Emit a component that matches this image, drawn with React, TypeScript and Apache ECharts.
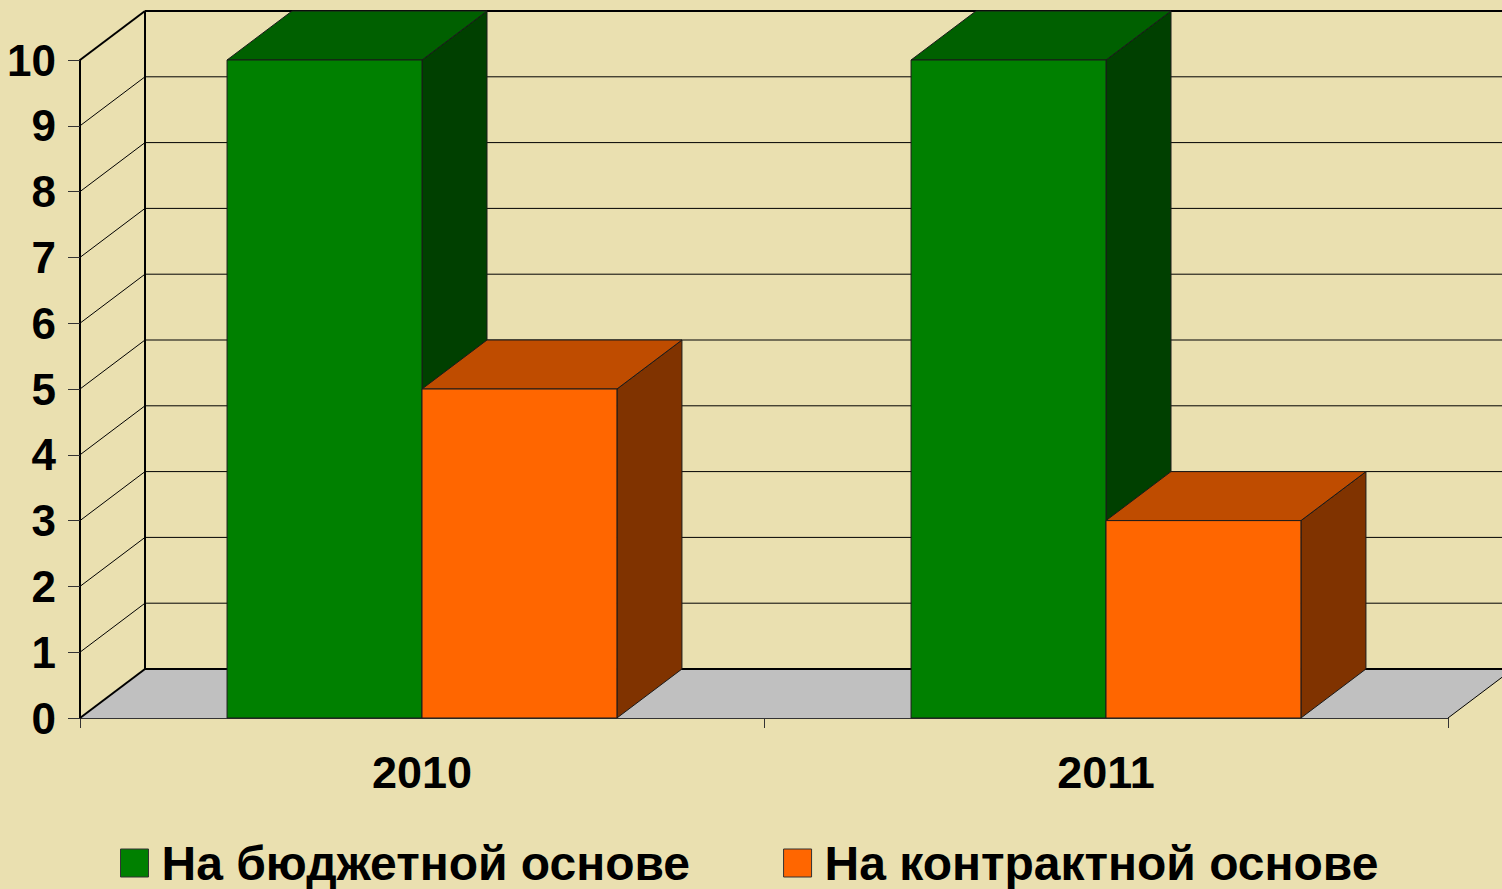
import React, { useEffect, useRef } from "react";
import * as echarts from "echarts";

const categories = ["2010", "2011"];
const seriesNames = ["На бюджетной основе", "На контрактной основе"];
const budgetValues = [10, 10];
const contractValues = [5, 3];
const yTicks = [0, 1, 2, 3, 4, 5, 6, 7, 8, 9, 10];

const DX = 65;
const DY = 49;
const BAR_FRAC = 0.285;
const FONT = "Arial, 'Liberation Sans', sans-serif";

const palette = [
  { front: "#008000", top: "#006000", side: "#004000" },
  { front: "#FF6600", top: "#BF4C00", side: "#803300" },
];

const makeBarRender = (idx: number) => (params: any, api: any) => {
  const cat = api.value(0);
  const val = api.value(1);
  const base = api.coord([cat, 0]);
  const top = api.coord([cat, val]);
  const band = api.size([1, 0])[0];
  const w = band * BAR_FRAC;
  const x = idx === 0 ? base[0] - w : base[0];
  const yB = base[1];
  const yT = top[1];
  const c = palette[idx];
  const stroke = { stroke: "#1a1a1a", lineWidth: 1 };
  return {
    type: "group",
    children: [
      {
        type: "polygon",
        shape: { points: [[x + w, yT], [x + w + DX, yT - DY], [x + w + DX, yB - DY], [x + w, yB]] },
        style: { fill: c.side, ...stroke },
      },
      {
        type: "polygon",
        shape: { points: [[x, yT], [x + w, yT], [x + w + DX, yT - DY], [x + DX, yT - DY]] },
        style: { fill: c.top, ...stroke },
      },
      {
        type: "rect",
        shape: { x, y: yT, width: w, height: yB - yT },
        style: { fill: c.front, ...stroke },
      },
    ],
  };
};

const frameRender = (params: any, api: any) => {
  const cs = params.coordSys;
  const x0 = cs.x;
  const x1 = cs.x + cs.width;
  const y0 = api.coord([0, 0])[1];
  const last = yTicks[yTicks.length - 1];
  const yTop = api.coord([0, last])[1];
  const children: any[] = [];
  children.push({
    type: "polygon",
    shape: { points: [[x0, y0], [x1, y0], [x1 + DX, y0 - DY], [x0 + DX, y0 - DY]] },
    style: { fill: "#C0C0C0" },
  });
  yTicks.forEach((v) => {
    const y = api.coord([0, v])[1];
    const heavy = v === 0 || v === last;
    children.push({
      type: "line",
      shape: { x1: x0, y1: y, x2: x0 + DX, y2: y - DY },
      style: { stroke: "#000", lineWidth: heavy ? 2 : 1 },
    });
    children.push({
      type: "line",
      shape: { x1: x0 + DX, y1: y - DY, x2: x1 + DX + 20, y2: y - DY },
      style: { stroke: "#000", lineWidth: heavy ? 2 : 1 },
    });
  });
  children.push({
    type: "line",
    shape: { x1: x0 + DX, y1: yTop - DY, x2: x0 + DX, y2: y0 - DY },
    style: { stroke: "#000", lineWidth: 2 },
  });
  children.push({
    type: "line",
    shape: { x1: x1, y1: y0, x2: x1 + DX, y2: y0 - DY },
    style: { stroke: "#000", lineWidth: 1 },
  });
  return { type: "group", children };
};

export default function App() {
  const ref = useRef<HTMLDivElement>(null);
  useEffect(() => {
    document.body.style.margin = "0";
    document.body.style.background = "#EAE0B0";
    const chart = echarts.init(ref.current!, null, { renderer: "svg" });
    chart.setOption({
      animation: false,
      backgroundColor: "#EAE0B0",
      grid: { left: 80, right: 54, top: 60, bottom: 171 },
      legend: {
        data: seriesNames,
        left: 115,
        top: 834,
        icon: "rect",
        itemWidth: 28,
        itemHeight: 28,
        itemGap: 93,
        itemStyle: { borderColor: "#333", borderWidth: 1 },
        textStyle: {
          fontSize: 48,
          fontWeight: "bold",
          fontFamily: FONT,
          color: "#000",
          padding: [0, 0, 0, 8],
        },
      },
      xAxis: {
        type: "category",
        data: categories,
        axisLine: { show: true, lineStyle: { color: "#333", width: 1 } },
        axisTick: { show: true, length: 10, lineStyle: { color: "#333" } },
        axisLabel: {
          margin: 32,
          fontSize: 45,
          fontWeight: "bold",
          fontFamily: FONT,
          color: "#000",
        },
        splitLine: { show: false },
      },
      yAxis: {
        type: "value",
        min: 0,
        max: 10,
        interval: 1,
        axisLine: { show: true, lineStyle: { color: "#000", width: 2 } },
        axisTick: { show: true, length: 12, lineStyle: { color: "#333" } },
        axisLabel: {
          margin: 24,
          fontSize: 44,
          fontWeight: "bold",
          fontFamily: FONT,
          color: "#000",
          padding: [8, 0, 0, 0],
        },
        splitLine: { show: false },
      },
      series: [
        {
          type: "custom",
          name: "frame",
          z: 1,
          silent: true,
          renderItem: frameRender,
          data: [[0, 0]],
        },
        {
          type: "custom",
          name: seriesNames[0],
          z: 2,
          itemStyle: { color: palette[0].front },
          renderItem: makeBarRender(0),
          data: budgetValues.map((v, i) => [i, v]),
        },
        {
          type: "custom",
          name: seriesNames[1],
          z: 3,
          itemStyle: { color: palette[1].front },
          renderItem: makeBarRender(1),
          data: contractValues.map((v, i) => [i, v]),
        },
      ],
    });
    return () => chart.dispose();
  }, []);
  return <div ref={ref} style={{ width: 1502, height: 889 }} />;
}
